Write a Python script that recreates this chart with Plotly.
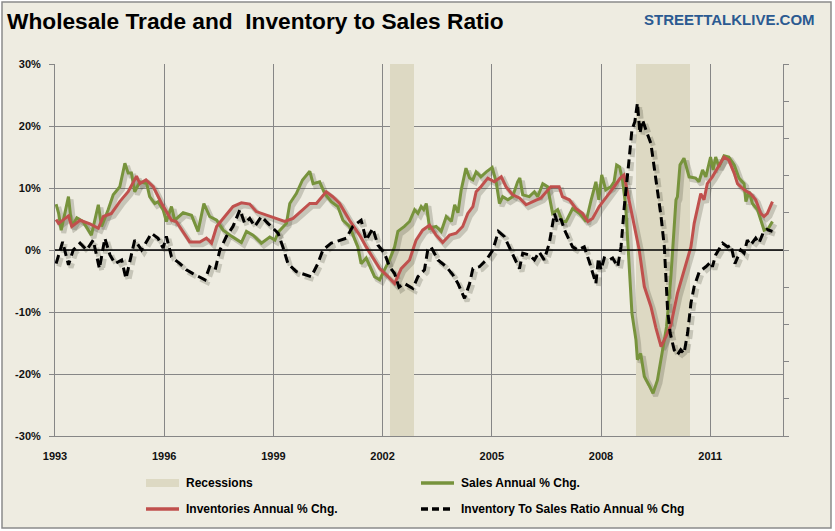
import plotly.graph_objects as go

# ---------------- data (decimal years, % values) ----------------
sales_t = [1993.03,1993.10,1993.17,1993.37,1993.46,1993.60,1993.77,1994.00,1994.19,1994.28,1994.46,1994.60,1994.78,1994.92,
           1995.01,1995.10,1995.19,1995.33,1995.52,1995.60,1995.74,1995.83,1995.97,1996.06,1996.20,1996.29,1996.52,1996.75,
           1996.93,1997.09,1997.25,1997.44,1997.62,1997.85,1998.12,1998.26,1998.44,1998.67,1998.90,1999.04,1999.15,1999.36,
           1999.45,1999.63,1999.80,2000.00,2000.09,2000.27,2000.41,2000.59,2000.77,2000.91,2001.09,2001.23,2001.32,2001.41,
           2001.55,2001.78,2001.92,2002.05,2002.19,2002.33,2002.42,2002.60,2002.74,2002.88,2002.97,2003.06,2003.13,2003.20,
           2003.29,2003.47,2003.61,2003.75,2003.89,2003.98,2004.07,2004.16,2004.29,2004.39,2004.48,2004.57,2004.70,2004.85,
           2005.01,2005.12,2005.21,2005.30,2005.44,2005.57,2005.71,2005.77,2005.85,2006.03,2006.17,2006.26,2006.40,2006.53,
           2006.67,2006.81,2006.94,2007.04,2007.22,2007.41,2007.59,2007.73,2007.86,2007.94,2008.02,2008.13,2008.27,2008.36,
           2008.43,2008.51,2008.59,2008.68,2008.73,2008.79,2008.85,2008.96,2009.00,2009.09,2009.19,2009.32,2009.43,2009.55,
           2009.69,2009.80,2009.92,2010.01,2010.06,2010.10,2010.17,2010.28,2010.42,2010.60,2010.69,2010.79,2010.88,2011.01,
           2011.08,2011.15,2011.24,2011.38,2011.51,2011.66,2011.79,2011.93,2011.98,2012.07,2012.16,2012.30,2012.39,2012.48,
           2012.60,2012.71]
sales_v = [7.4,5.9,3.2,8.6,3.8,5.2,4.6,2.4,7.3,3.8,6.5,8.9,10.2,14.0,
           12.4,12.4,9.4,11.0,10.7,8.6,7.5,7.8,6.5,4.6,7.0,4.8,6.0,5.6,
           3.0,7.5,5.4,4.8,3.2,2.2,1.2,3.0,2.4,1.1,2.1,1.6,3.0,4.3,
           7.5,9.1,11.3,12.7,10.7,11.0,9.1,7.8,7.0,4.8,3.8,1.6,0.5,-2.2,
           -1.3,-4.3,-4.8,-3.2,-1.6,0.5,3.0,3.8,4.6,6.5,5.9,7.0,6.5,7.5,
           3.5,3.8,3.0,5.4,4.6,7.3,6.0,9.7,13.2,11.6,11.3,12.6,11.8,12.6,
           13.3,11.0,7.5,8.6,8.1,8.6,11.0,11.6,8.9,8.6,9.4,8.6,10.7,10.2,
           5.9,6.5,4.6,4.6,6.7,5.9,4.6,8.1,11.0,8.1,12.1,9.7,10.2,11.0,
           13.7,13.4,11.3,7.0,1.6,-5.4,-10.2,-14.5,-17.7,-16.7,-20.4,-21.8,-23.1,-21.0,
           -16.1,-12.4,-4.3,4.8,8.1,8.6,13.7,14.8,11.8,11.6,11.0,12.9,11.8,15.0,
           12.9,15.0,13.4,15.2,15.0,13.7,11.6,10.7,7.8,9.4,7.5,6.5,4.8,3.2,
           3.5,4.6]

inv_t = [1993.03,1993.10,1993.37,1993.46,1993.69,1993.96,1994.19,1994.33,1994.55,1994.78,1995.01,1995.24,1995.33,1995.50,
         1995.70,1995.93,1996.20,1996.33,1996.70,1996.98,1997.16,1997.30,1997.44,1997.66,1997.89,1998.12,1998.35,1998.53,
         1998.90,1999.31,1999.54,1999.75,2000.00,2000.18,2000.45,2000.63,2000.82,2001.09,2001.37,2001.55,2001.73,2001.92,
         2002.15,2002.33,2002.51,2002.74,2002.92,2003.10,2003.29,2003.47,2003.65,2003.84,2004.02,2004.20,2004.34,2004.48,
         2004.57,2004.70,2004.89,2005.07,2005.26,2005.39,2005.57,2005.76,2005.94,2006.12,2006.35,2006.62,2006.85,2006.94,
         2007.13,2007.31,2007.49,2007.64,2007.77,2007.95,2008.08,2008.22,2008.36,2008.53,2008.63,2008.68,2008.77,2008.91,
         2009.05,2009.19,2009.37,2009.51,2009.65,2009.78,2009.92,2010.10,2010.28,2010.47,2010.56,2010.74,2010.83,2010.92,
         2011.06,2011.20,2011.38,2011.51,2011.66,2011.75,2011.93,2012.11,2012.25,2012.39,2012.48,2012.57,2012.71]
inv_v = [4.9,4.3,5.5,3.8,4.8,4.2,3.5,5.4,5.9,7.8,9.4,11.9,10.7,11.3,
         10.2,7.5,4.8,4.6,1.3,1.3,1.9,1.1,3.8,5.4,7.0,7.6,7.4,6.2,
         5.4,4.6,5.1,6.2,7.5,7.5,9.4,8.6,7.5,4.8,2.4,0.5,-1.1,-3.0,
         -4.3,-5.4,-3.0,-1.6,1.6,3.2,4.0,2.4,1.2,2.4,2.7,3.8,5.9,7.0,
         9.4,10.2,11.6,11.0,11.8,10.2,8.9,8.4,7.3,7.8,8.4,10.2,10.2,8.6,
         8.1,6.7,5.9,4.6,5.1,7.0,8.1,9.1,10.2,11.6,12.1,10.7,8.1,4.3,
         0.0,-5.9,-9.1,-12.6,-15.6,-14.0,-12.1,-7.0,-3.2,0.5,4.3,9.1,8.1,10.7,
         11.8,13.2,15.0,14.5,12.4,10.7,9.7,9.1,8.1,5.9,5.4,5.9,7.8]

ratio_t = [1993.03,1993.21,1993.37,1993.50,1993.69,1993.87,1994.05,1994.22,1994.37,1994.51,1994.65,1994.83,1994.95,1995.05,
           1995.19,1995.38,1995.65,1995.83,1995.97,1996.06,1996.20,1996.43,1996.61,1996.79,1996.96,1997.12,1997.25,1997.40,
           1997.53,1997.71,1997.89,1998.08,1998.21,1998.35,1998.49,1998.67,1998.85,1998.99,1999.13,1999.26,1999.40,1999.63,
           1999.90,2000.04,2000.22,2000.36,2000.59,2000.82,2001.00,2001.18,2001.41,2001.55,2001.73,2001.87,2002.05,2002.19,
           2002.33,2002.45,2002.60,2002.83,2002.97,2003.15,2003.24,2003.33,2003.52,2003.75,2003.93,2004.07,2004.25,2004.39,
           2004.48,2004.66,2004.85,2005.03,2005.18,2005.34,2005.48,2005.62,2005.76,2005.85,2006.03,2006.17,2006.30,2006.44,
           2006.58,2006.72,2006.81,2006.90,2007.00,2007.08,2007.22,2007.36,2007.54,2007.68,2007.86,2007.93,2008.00,2008.09,
           2008.23,2008.32,2008.46,2008.55,2008.64,2008.77,2008.85,2008.93,2009.00,2009.07,2009.14,2009.25,2009.37,2009.46,
           2009.55,2009.65,2009.74,2009.78,2009.83,2009.90,2010.01,2010.10,2010.19,2010.28,2010.38,2010.47,2010.56,2010.70,
           2010.88,2011.02,2011.06,2011.15,2011.34,2011.48,2011.57,2011.68,2011.84,2011.93,2012.02,2012.11,2012.25,2012.34,
           2012.45,2012.56,2012.71]
ratio_v = [-2.2,1.3,-2.4,0.0,1.1,0.0,1.6,-3.0,1.9,-0.8,-2.2,-1.6,-4.6,-2.2,
           1.6,0.0,2.7,1.9,0.3,2.2,-1.1,-2.2,-3.2,-3.8,-4.3,-4.8,-2.7,-3.2,
           0.0,2.2,3.8,6.5,4.3,5.1,3.8,5.4,4.3,3.5,2.7,0.5,-2.2,-3.5,
           -4.0,-4.3,-2.2,0.0,1.1,1.6,1.9,3.8,4.8,1.6,3.5,0.8,-0.5,-2.7,
           -3.8,-6.0,-5.4,-6.2,-4.3,-3.2,0.0,0.5,-1.6,-2.7,-4.0,-5.4,-7.8,-5.4,
           -3.0,-2.7,-1.6,0.0,3.0,2.2,0.5,-1.1,-3.0,-0.5,-0.8,-1.6,-0.3,-1.6,
           1.1,5.9,4.3,5.0,3.2,2.2,0.5,0.0,0.5,-1.9,-5.4,-1.3,-3.2,-1.3,
           -1.6,-1.3,-2.7,0.5,7.0,14.5,19.4,20.7,23.7,18.8,21.0,19.1,17.2,13.4,
           9.7,5.4,0.5,-4.3,-9.7,-13.4,-16.1,-16.9,-16.1,-16.7,-13.4,-8.6,-5.9,-3.5,
           -2.7,-1.9,-2.7,-0.8,1.1,0.5,0.8,-2.2,0.0,-0.5,1.6,0.8,1.9,1.1,
           2.7,3.3,3.0]

recession_start = [2002.20, 2008.96]
recession_end = [2002.87, 2010.45]
recession_level = [1, 1]

x_tick_vals = [1993, 1996, 1999, 2002, 2005, 2008, 2011]
x_tick_labels = ["1993", "1996", "1999", "2002", "2005", "2008", "2011"]
y_tick_vals = [-30, -20, -10, 0, 10, 20, 30]
y_tick_labels = ["-30%", "-20%", "-10%", "0%", "10%", "20%", "30%"]

title_text = "Wholesale Trade and  Inventory to Sales Ratio"
brand_text = "STREETTALKLIVE.COM"
legend_labels = ["Recessions", "Sales Annual % Chg.", "Inventories Annual % Chg.",
                 "Inventory To Sales Ratio Annual % Chg"]

# ---------------- styling ----------------
W, H = 835, 531
L, R, T, B = 55, 783, 64, 436
BG = "#EEECE1"
BAND = "#DDD9C3"
GREEN = "#77933C"
RED = "#C0504D"
GRID = "#868686"
FONT = "Liberation Sans, Arial, sans-serif"
DASH = "9px,5px"


def px(x):
    return (x - L) / (R - L)


def py(y):
    return (B - y) / (B - T)


fig = go.Figure()

# recessions as bars on the (right-hand, unlabeled) base axis
fig.add_trace(go.Bar(
    x=recession_start, y=recession_level,
    width=[e - s for s, e in zip(recession_start, recession_end)],
    offset=0, yaxis="y", marker=dict(color=BAND, line=dict(width=0)),
    showlegend=False, hoverinfo="skip"))

# soft drop shadows of the lines
for t, v, dash in [(sales_t, sales_v, "solid"), (inv_t, inv_v, "solid"), (ratio_t, ratio_v, DASH)]:
    fig.add_trace(go.Scatter(
        x=[a + 0.07 for a in t], y=[b - 0.45 for b in v], mode="lines", yaxis="y2",
        line=dict(color="rgba(60,60,40,0.22)", width=5, dash=dash),
        showlegend=False, hoverinfo="skip"))

fig.add_trace(go.Scatter(x=sales_t, y=sales_v, mode="lines", yaxis="y2",
                         line=dict(color=GREEN, width=3), name=legend_labels[1], showlegend=False))
fig.add_trace(go.Scatter(x=inv_t, y=inv_v, mode="lines", yaxis="y2",
                         line=dict(color=RED, width=3), name=legend_labels[2], showlegend=False))
fig.add_trace(go.Scatter(x=ratio_t, y=ratio_v, mode="lines", yaxis="y2",
                         line=dict(color="black", width=3, dash=DASH), name=legend_labels[3],
                         showlegend=False))

shapes = []
# outer frame / background
shapes.append(dict(type="rect", xref="paper", yref="paper", layer="below",
                   x0=px(2), x1=px(831), y0=py(528), y1=py(2),
                   fillcolor=BG, line=dict(color="#8a8a8a", width=1.5)))
# zero line
shapes.append(dict(type="line", xref="paper", yref="y2", x0=0, x1=1, y0=0, y1=0,
                   line=dict(color="black", width=1.3), layer="above"))

annotations = []
annotations.append(dict(xref="paper", yref="paper", x=px(5), y=py(21),
                        xanchor="left", yanchor="middle", showarrow=False, text=title_text,
                        font=dict(family=FONT, size=22.7, color="black", weight="bold")))
annotations.append(dict(xref="paper", yref="paper", x=px(817), y=py(19),
                        xanchor="right", yanchor="middle", showarrow=False, text=brand_text,
                        font=dict(family=FONT, size=15, color="#2B5A91", weight="bold")))

# legend (manual)
legend_font = dict(family=FONT, size=12, color="black", weight="bold")
row1, row2 = 483, 509
shapes.append(dict(type="rect", xref="paper", yref="paper", x0=px(146), x1=px(179),
                   y0=py(row1 + 4), y1=py(row1 - 4), fillcolor=BAND, line=dict(width=0)))
shapes.append(dict(type="line", xref="paper", yref="paper", x0=px(421), x1=px(454),
                   y0=py(row1), y1=py(row1), line=dict(color=GREEN, width=3.5)))
shapes.append(dict(type="line", xref="paper", yref="paper", x0=px(146), x1=px(179),
                   y0=py(row2), y1=py(row2), line=dict(color=RED, width=3.5)))
shapes.append(dict(type="line", xref="paper", yref="paper", x0=px(421), x1=px(454),
                   y0=py(row2), y1=py(row2), line=dict(color="black", width=3.5, dash="7px,4px")))
for lx, ly, txt in [(184, row1, legend_labels[0]), (459, row1, legend_labels[1]),
                    (184, row2, legend_labels[2]), (459, row2, legend_labels[3])]:
    annotations.append(dict(xref="paper", yref="paper", x=px(lx), y=py(ly), xanchor="left",
                            yanchor="middle", showarrow=False, text=txt, font=legend_font))

tickfont = dict(family=FONT, size=11, color="#111111", weight="bold")
fig.update_layout(
    width=W, height=H,
    margin=dict(l=L, r=W - R, t=T, b=H - B, pad=0),
    paper_bgcolor="white", plot_bgcolor=BG,
    showlegend=False, bargap=0,
    shapes=shapes, annotations=annotations,
    xaxis=dict(range=[1993, 2013], tickvals=x_tick_vals, ticktext=x_tick_labels,
               showgrid=True, gridcolor=GRID, gridwidth=1, zeroline=False,
               showline=True, linecolor=GRID, linewidth=1, ticks="",
               ticklabelstandoff=10, tickfont=tickfont),
    yaxis=dict(range=[0, 1], side="right", dtick=0.1, tick0=0,
               showticklabels=False, showgrid=False, zeroline=False, showline=True,
               linecolor=GRID, linewidth=1, ticks="outside", ticklen=5, tickcolor=GRID),
    yaxis2=dict(range=[-30, 30], overlaying="y", side="left",
                tickvals=y_tick_vals, ticktext=y_tick_labels,
                showgrid=True, gridcolor=GRID, gridwidth=1, zeroline=False,
                showline=True, linecolor=GRID, linewidth=1, ticks="outside", ticklen=5,
                tickcolor=GRID, ticklabelstandoff=6, tickfont=tickfont),
)

fig.write_html("out.html", config={"displayModeBar": False},
               post_script="document.body.style.margin='0';")
